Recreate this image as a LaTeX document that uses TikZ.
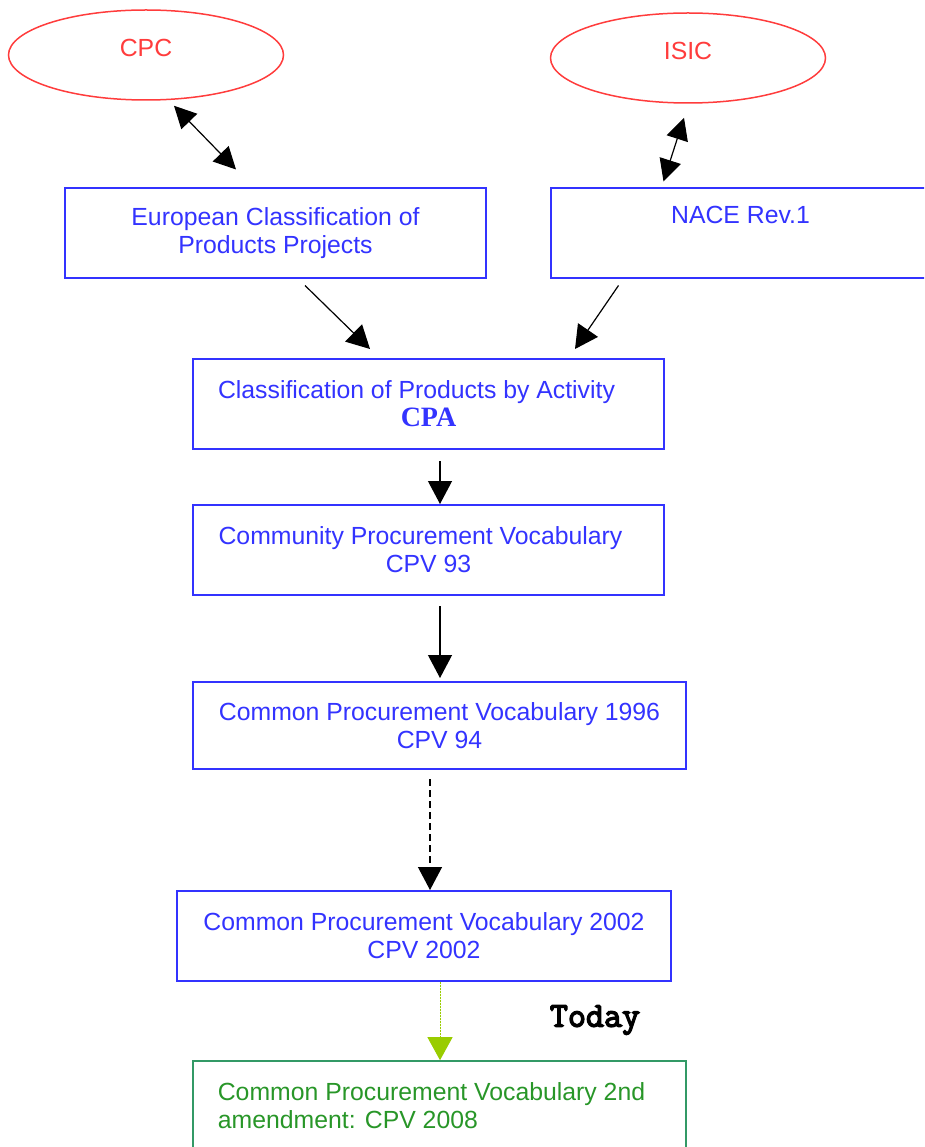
\documentclass[tikz,border=0pt]{standalone}
\usepackage{fontspec}
\setmainfont{Liberation Sans}
\newfontfamily\cpafont{Liberation Serif}
\newfontfamily\todayfont[FakeBold=4]{Latin Modern Mono}
\usetikzlibrary{shapes.geometric,arrows.meta}
\definecolor{lineblue}{RGB}{51,51,255}
\definecolor{linered}{RGB}{255,60,60}
\definecolor{linegreen}{RGB}{51,153,102}
\definecolor{textgreen}{RGB}{40,150,40}
\definecolor{arrowgreen}{RGB}{153,204,0}

\begin{document}
\begin{tikzpicture}[x=1pt, y=-1pt,
  box/.style={draw=lineblue, line width=2pt, rectangle, minimum height=90pt, align=center, text=lineblue, font=\fontsize{24.8}{28}\selectfont},
  oval/.style={draw=linered, line width=1.5pt, ellipse, minimum width=275pt, minimum height=90pt, text=linered, text depth=14pt, font=\fontsize{24.8}{28}\selectfont},
  arr/.style={-{Triangle[length=23pt,width=24pt]}, line width=1.2pt},
  dbl/.style={{Triangle[length=22pt,width=22pt]}-{Triangle[length=22pt,width=22pt]}, line width=1.2pt}
]
\clip (0,0) rectangle (924,1147);
\node[oval] (cpc) at (146,55) {CPC};
\node[oval] (isic) at (688,58) {ISIC};
\node[box, minimum width=421pt] (euro) at (275.5,233.5) {European Classification of\\ Products Projects};
\node[box, minimum width=379pt] (nace) at (740.5,233.5) {NACE Rev.1\\ \strut};
\node[box, minimum width=471pt] (cpa) at (428.5,404) {Classification of Products by Activity\hspace*{24pt}\\ {\cpafont\bfseries\fontsize{28}{30}\selectfont CPA}};
\node[box, minimum width=471pt] (cpv93) at (428.5,550) {Community Procurement Vocabulary\hspace*{16pt}\\ CPV 93};
\node[box, minimum width=493pt, minimum height=87pt] (cpv94) at (439.5,725.5) {Common Procurement Vocabulary 1996\\ CPV 94};
\node[box, minimum width=494pt] (cpv02) at (424,936) {Common Procurement Vocabulary 2002\\ CPV 2002};
\node[box, draw=linegreen, text=textgreen, minimum width=493pt, align=left, line width=1.6pt] (cpv08) at (439.5,1106) {Common Procurement Vocabulary 2nd\hspace*{16pt}\\ amendment: CPV 2008};
\node[font=\todayfont\fontsize{35}{35}\selectfont] (today) at (595,1020) {Today};

\draw[dbl] ([xshift=28pt,yshift=-5pt]cpc.south) -- ([xshift=-39.5pt,yshift=18pt]euro.north);
\draw[dbl] ([xshift=-4pt,yshift=-14pt]isic.south) -- ([xshift=-77pt,yshift=6pt]nace.north);
\draw[arr] ([xshift=29.5pt,yshift=-6pt]euro.south) -- ([xshift=-58.5pt,yshift=9pt]cpa.north);
\draw[arr] ([xshift=-122pt,yshift=-6pt]nace.south) -- ([xshift=146.5pt,yshift=9pt]cpa.north);
\draw[arr] ([xshift=11.5pt,yshift=-11pt]cpa.south) -- ([xshift=11.5pt]cpv93.north);
\draw[arr] ([xshift=11.5pt,yshift=-10pt]cpv93.south) -- ([xshift=0.5pt,yshift=3pt]cpv94.north);
\draw[arr, dash pattern=on 7pt off 4pt] ([xshift=-9.5pt,yshift=-9pt]cpv94.south) -- ([xshift=6pt]cpv02.north);
\draw[-{Triangle[length=23pt,width=25pt]}, draw=arrowgreen, fill=arrowgreen, line width=1pt, dash pattern=on 1.5pt off 1.5pt] ([xshift=16pt]cpv02.south) -- ([xshift=0.5pt]cpv08.north);
\end{tikzpicture}
\end{document}
